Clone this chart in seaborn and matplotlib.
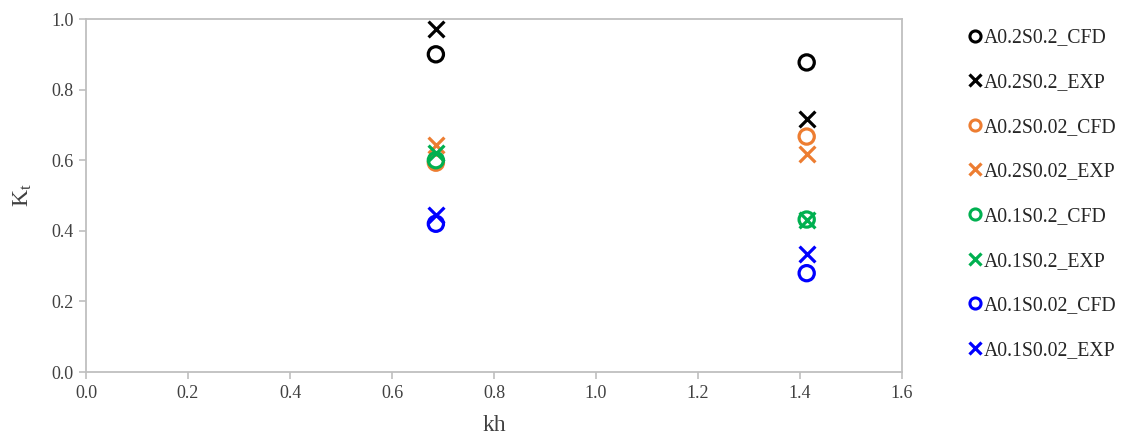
import matplotlib
matplotlib.use("Agg")
import matplotlib.pyplot as plt
import seaborn as sns
import pandas as pd

# Transmission coefficient Kt versus kh for two amplitudes / two spacings
kh = [0.686, 1.413]
series_names = [
    "A0.2S0.2_CFD", "A0.2S0.2_EXP",
    "A0.2S0.02_CFD", "A0.2S0.02_EXP",
    "A0.1S0.2_CFD", "A0.1S0.2_EXP",
    "A0.1S0.02_CFD", "A0.1S0.02_EXP",
]
kt_a02s02_cfd = [0.900, 0.877]
kt_a02s02_exp = [0.972, 0.717]
kt_a02s002_cfd = [0.593, 0.667]
kt_a02s002_exp = [0.644, 0.617]
kt_a01s02_cfd = [0.600, 0.432]
kt_a01s02_exp = [0.620, 0.432]
kt_a01s002_cfd = [0.420, 0.280]
kt_a01s002_exp = [0.444, 0.335]

values = [kt_a02s02_cfd, kt_a02s02_exp, kt_a02s002_cfd, kt_a02s002_exp,
          kt_a01s02_cfd, kt_a01s02_exp, kt_a01s002_cfd, kt_a01s002_exp]
colors = ["#000000", "#000000", "#ED7D31", "#ED7D31",
          "#00B050", "#00B050", "#0000FF", "#0000FF"]
markers = ["o", "x", "o", "x", "o", "x", "o", "x"]

sns.set_theme(style="white")
plt.rcParams["font.family"] = ["Liberation Serif", "DejaVu Serif"]

fig = plt.figure(figsize=(11.21, 4.37), dpi=100)
ax = fig.add_axes([0.0767, 0.1487, 0.7280, 0.8078])

handles = []
for name, vals, c, m in zip(series_names, values, colors, markers):
    df = pd.DataFrame({"kh": kh, "Kt": vals})
    if m == "o":
        sns.scatterplot(data=df, x="kh", y="Kt", ax=ax, marker="o", s=120,
                        facecolor="none", edgecolor=c, linewidth=2.3, zorder=3)
        h = plt.Line2D([], [], linestyle="none", marker="o", markersize=8,
                       markerfacecolor="none", markeredgecolor=c, markeredgewidth=2.2)
    else:
        sns.scatterplot(data=df, x="kh", y="Kt", ax=ax, marker="x", s=130,
                        color=c, linewidth=2.3, zorder=3)
        h = plt.Line2D([], [], linestyle="none", marker="x", markersize=9,
                       color=c, markeredgewidth=2.3)
    handles.append(h)

ax.set_xlim(0, 1.6)
ax.set_ylim(0, 1.0)
ax.set_xticks([0.0, 0.2, 0.4, 0.6, 0.8, 1.0, 1.2, 1.4, 1.6])
ax.set_yticks([0.0, 0.2, 0.4, 0.6, 0.8, 1.0])
ax.set_xticklabels([f"{v:.1f}" for v in ax.get_xticks()])
ax.set_yticklabels([f"{v:.1f}" for v in ax.get_yticks()])

for side in ["left", "bottom", "top", "right"]:
    ax.spines[side].set_color("#BFBFBF")
    ax.spines[side].set_linewidth(1.3)
ax.tick_params(axis="both", which="major", direction="out", length=5, width=1.2,
               color="#BFBFBF", labelsize=13, labelcolor="#404040",
               left=True, bottom=True, pad=4)

ax.set_xlabel("kh", fontsize=17, color="#404040", labelpad=10)
ax.set_ylabel(r"$\mathregular{K_t}$", fontsize=17, color="#404040", labelpad=12)

leg = ax.legend(handles, series_names, loc="upper left",
                bbox_to_anchor=(0.861, 0.944), bbox_transform=fig.transFigure,
                frameon=False, fontsize=14.2, handlelength=0.6,
                handletextpad=0.12, labelspacing=1.3, borderaxespad=0.0,
                borderpad=0.2)
for t in leg.get_texts():
    t.set_color("#262626")

fig.savefig("out.png", dpi=100)
